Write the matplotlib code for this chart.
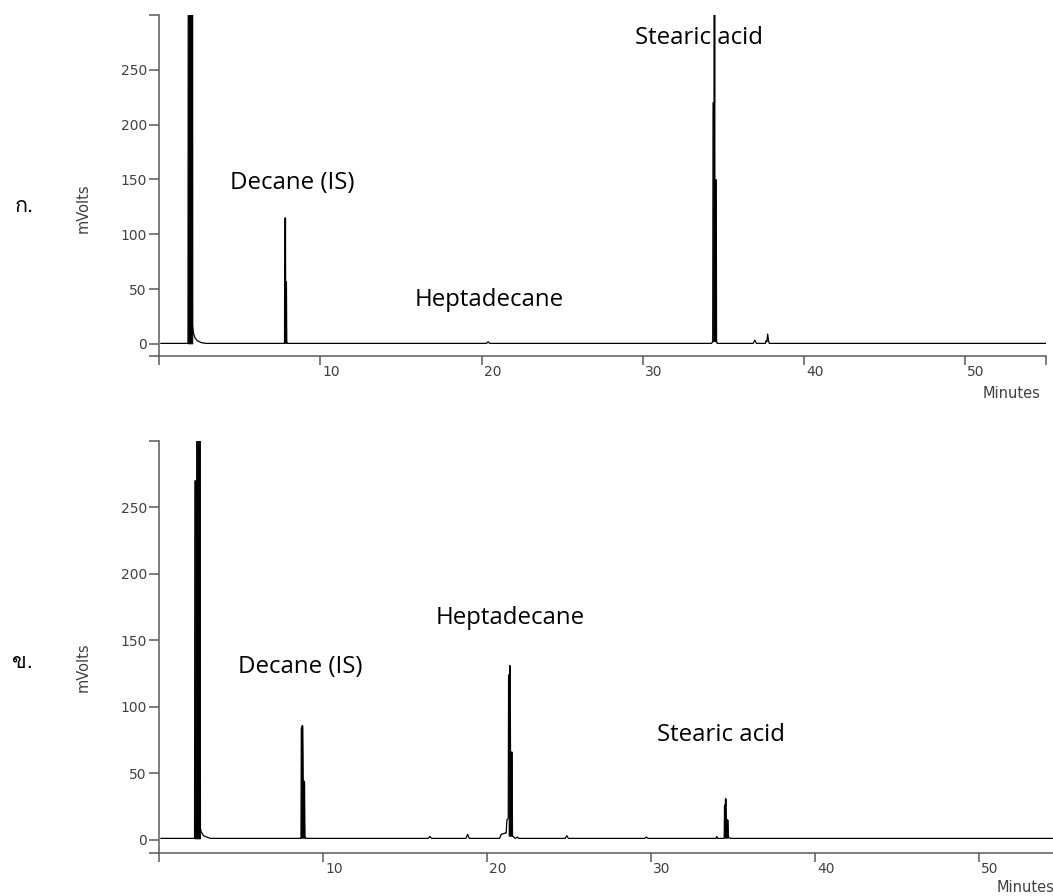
import matplotlib
matplotlib.use("Agg")
import matplotlib.pyplot as plt
import numpy as np
from matplotlib import font_manager
from matplotlib.ft2font import FT2Font
import matplotlib.transforms as mtransforms

# ---- data (time in minutes, signal in mV) ----
top_time = [0.1, 1.78, 1.80, 2.05, 2.06, 2.12, 2.2, 2.35, 2.6, 2.9,
            7.76, 7.77, 7.78, 7.80, 7.81, 7.82, 7.87, 7.89, 7.95,
            20.3, 20.4, 20.5,
            34.25, 34.32, 34.34, 34.36, 34.43, 34.44, 34.45, 34.54, 34.56, 34.62,
            36.85, 36.95, 37.05,
            37.6, 37.65, 37.7, 37.75, 37.8, 37.85, 55.0]
top_mv = [0.5, 0.5, 400, 400, 17, 10, 6, 3, 1.2, 0.5,
          0.5, 1, 70, 70, 115, 57, 57, 2, 0.5,
          0.5, 2, 0.5,
          0.5, 1.5, 2.5, 220, 220, 400, 150, 150, 3, 0.5,
          0.5, 3.5, 0.5,
          0.5, 3, 2, 9, 3, 0.5, 0.5]
# stretches of the trace drawn solid black (dense sampling in the original)
top_solid = [(1.78, 2.05), (7.77, 7.89), (34.34, 34.56)]

bot_time = [0.1, 2.15, 2.17, 2.28, 2.29, 2.47, 2.49, 2.55, 2.7, 2.9, 3.1,
            8.63, 8.64, 8.66, 8.71, 8.72, 8.73, 8.75, 8.84, 8.86, 8.95,
            16.4, 16.5, 16.6, 18.7, 18.8, 18.9,
            20.75, 20.85, 21.1, 21.15, 21.2, 21.28, 21.30, 21.36, 21.37, 21.38,
            21.40, 21.50, 21.52, 21.62, 21.7, 21.85, 21.9, 22.0,
            24.75, 24.85, 24.95, 29.6, 29.7, 29.8, 33.95, 34.0, 34.05,
            34.43, 34.45, 34.47, 34.52, 34.53, 34.54, 34.56, 34.66, 34.68,
            34.75, 34.85, 54.5]
bot_mv = [1, 1, 270, 270, 400, 400, 10, 6, 3, 2, 1,
          1, 1.5, 84, 84, 86, 84, 44, 44, 2, 1,
          1, 2.5, 1, 1, 4, 1,
          1, 4, 5, 5, 15, 16, 124, 124, 131, 124,
          66, 66, 3, 2, 1, 2, 1, 1,
          1, 3, 1, 1, 2, 1, 1, 2.5, 1,
          1, 1.5, 26, 26, 31, 26, 15, 15, 3,
          1.5, 1, 1]
bot_solid = [(2.15, 2.49), (8.64, 8.86), (21.30, 21.52), (34.45, 34.68)]

y_ticks = [0, 50, 100, 150, 200, 250, 300]
x_ticks = [0, 10, 20, 30, 40, 50]

peak_names = ["Decane (IS)", "Heptadecane", "Stearic acid"]
top_label_px = [(230, 183), (415, 300), (635, 38)]
bot_label_px = [(238, 667), (436, 618), (657, 735)]
panel_marks = ["ก.", "ข."]


def thai_family():
    for f in font_manager.fontManager.ttflist:
        try:
            if 0x0E01 in FT2Font(f.fname).get_charmap():
                return f.name
        except Exception:
            pass
    return "DejaVu Sans"


W, H = 1053, 896
fig = plt.figure(figsize=(W / 100, H / 100), dpi=100, facecolor="white")

axis_col = "#5a5a5a"
lab_col = "#404040"


def px(x, y):
    return x / W, 1 - y / H


def setup(ax, t, mv, solid, ymin, xmax, end_tick):
    t = np.array(t)
    mv = np.array(mv)
    ax.plot(t, mv, color="black", lw=0.9, zorder=3)
    for a, b in solid:
        m = (t >= a) & (t <= b)
        ax.fill_between(t, mv, mv[m].min(), where=m, color="black", lw=0.6, zorder=3)
    ax.set_xlim(0, xmax)
    ax.set_ylim(ymin, 300)
    for s in ["top", "right"]:
        ax.spines[s].set_visible(False)
    for s in ["left", "bottom"]:
        ax.spines[s].set_color(axis_col)
        ax.spines[s].set_linewidth(1.1)
    yt = [ymin] + y_ticks
    ax.set_yticks(yt)
    ax.set_yticklabels([""] + [str(v) for v in y_ticks[:-1]] + [""])
    xt = x_ticks + ([xmax] if end_tick else [])
    ax.set_xticks(xt)
    ax.set_xticklabels([""] + [str(v) for v in x_ticks[1:]] + ([""] if end_tick else []))
    ax.tick_params(axis="y", direction="out", length=7, width=1.1, color=axis_col,
                   labelsize=10, labelcolor=lab_col, pad=2)
    ax.tick_params(axis="x", direction="out", length=6.5, width=1.1, color=axis_col,
                   labelsize=10, labelcolor=lab_col, pad=0)
    off = mtransforms.ScaledTranslation(1.5 / 72, 0, fig.dpi_scale_trans)
    for lab in ax.get_xticklabels():
        lab.set_horizontalalignment("left")
        lab.set_transform(lab.get_transform() + off)


# top panel: x 159.3..1045.7 px, y 15..356 px
ax1 = fig.add_axes([159.3 / W, 1 - 356 / H, 886.4 / W, 341 / H])
ax1.patch.set_visible(False)
setup(ax1, top_time, top_mv, top_solid, -11, 55, True)

# bottom panel: x 159.3..1053 px, y 441..853 px
ax2 = fig.add_axes([159.3 / W, 1 - 853 / H, 893.7 / W, 412 / H])
ax2.patch.set_visible(False)
setup(ax2, bot_time, bot_mv, bot_solid, -10, 54.5, False)

# axis titles
for yc in (208, 667):
    fig.text(*px(83, yc), "mVolts", rotation=90, ha="center", va="center",
             fontsize=10.5, color=lab_col)
fig.text(*px(1040, 393), "Minutes", ha="right", va="center", fontsize=10.5, color=lab_col)
fig.text(*px(1055, 887), "Minutes", ha="right", va="center", fontsize=10.5, color=lab_col)

# peak names
for name, (x, y) in zip(peak_names, top_label_px):
    fig.text(*px(x, y), name, ha="left", va="center", fontsize=17.3,
             family="Open Sans", color="black", zorder=1)
for name, (x, y) in zip(peak_names, bot_label_px):
    fig.text(*px(x, y), name, ha="left", va="center", fontsize=17.3,
             family="Open Sans", color="black", zorder=1)

# panel marks
tf = thai_family()
fig.text(*px(15, 207), panel_marks[0], ha="left", va="center", fontsize=15.5,
         family=[tf, "DejaVu Sans"])
fig.text(*px(12, 662), panel_marks[1], ha="left", va="center", fontsize=15.5,
         family=[tf, "DejaVu Sans"])

fig.savefig("out.png", dpi=100, facecolor="white")
